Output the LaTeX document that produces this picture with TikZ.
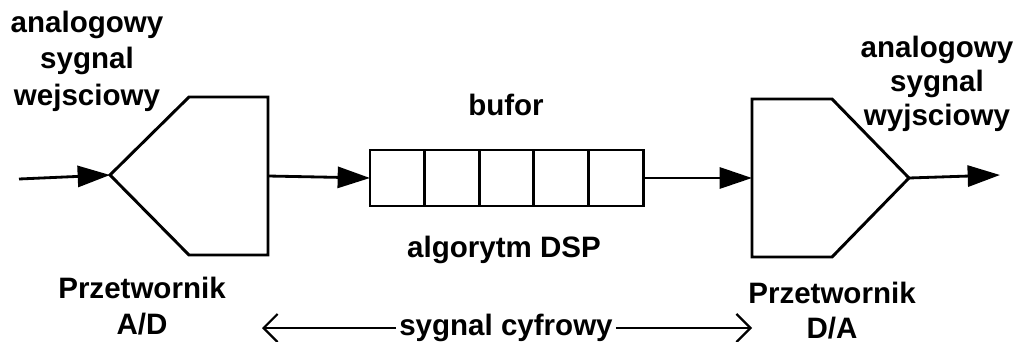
\documentclass[tikz,border=0pt]{standalone}
\usepackage{fontspec}
\setmainfont{Liberation Sans}
\usetikzlibrary{arrows.meta}
\usetikzlibrary{positioning}
\tikzset{
  conv/.style={draw,line width=2.1pt,line join=miter},
  cell/.style={rectangle,draw,line width=2.1pt,outer sep=0pt,inner sep=0pt,
    minimum width=1.365cm,minimum height=1.4cm},
  sig/.style={-{Triangle[length=23pt,width=15pt]},line width=2pt},
  half/.style={-{Straight Barb[length=10pt,width=20pt]},line width=1.6pt},
  txt/.style={font=\fontsize{21}{26}\selectfont\bfseries,align=center,
    inner sep=0pt}
}

\begin{document}
\begin{tikzpicture}[x=0.025cm,y=-0.025cm]
  \useasboundingbox (0,0) rectangle (1020,342);
  % A/D
  \draw[conv] (110,175) coordinate (adin) -- (189,97) -- (268,97)
    -- (268,255) -- (189,255) -- cycle;
  \coordinate (adout) at (268,176);
  % bufor
  \node (c1) [cell] at (397.3,178) {};
  \foreach \i [count=\j from 2] in {1,...,4}
    \node (c\j) [cell,right=0pt of c\i] {};
  % D/A
  \draw[conv] (752,99) -- (832,99) -- (909,178) coordinate (daout)
    -- (832,257) -- (752,257) -- cycle;
  \coordinate (dain) at (752,178);
  \coordinate (src) at (19,179);
  \coordinate (dst) at (1000,175);
  \draw[sig] (src) -- (adin);
  \draw[sig] (adout) -- (c1.west);
  \draw[sig] (c5.east) -- (dain);
  \draw[sig] (daout) -- (dst);
  % texts
  \node[txt] (lin) at (87,61) {analogowy\\sygnal\\wejsciowy};
  \node[txt] (ad) at (142,306) {Przetwornik\\A/D};
  \node[txt] (buflbl) at (506,105) {bufor};
  \node[txt] (dsp) at (504,250) {algorytm DSP};
  \node[txt,font=\fontsize{21}{25}\selectfont\bfseries] (da) at (832,311)
    {Przetwornik\\D/A};
  \node[txt,font=\fontsize{21}{24}\selectfont\bfseries] (lout) at (937,84)
    {analogowy\\sygnal\\wyjsciowy};
  \node[txt,inner sep=2pt] (cyf) at (506,328) {sygnal cyfrowy};
  \coordinate (cl) at (262,328);
  \coordinate (cr) at (752,328);
  \draw[half] (cyf) -- (cl);
  \draw[half] (cyf) -- (cr);
\end{tikzpicture}
\end{document}
